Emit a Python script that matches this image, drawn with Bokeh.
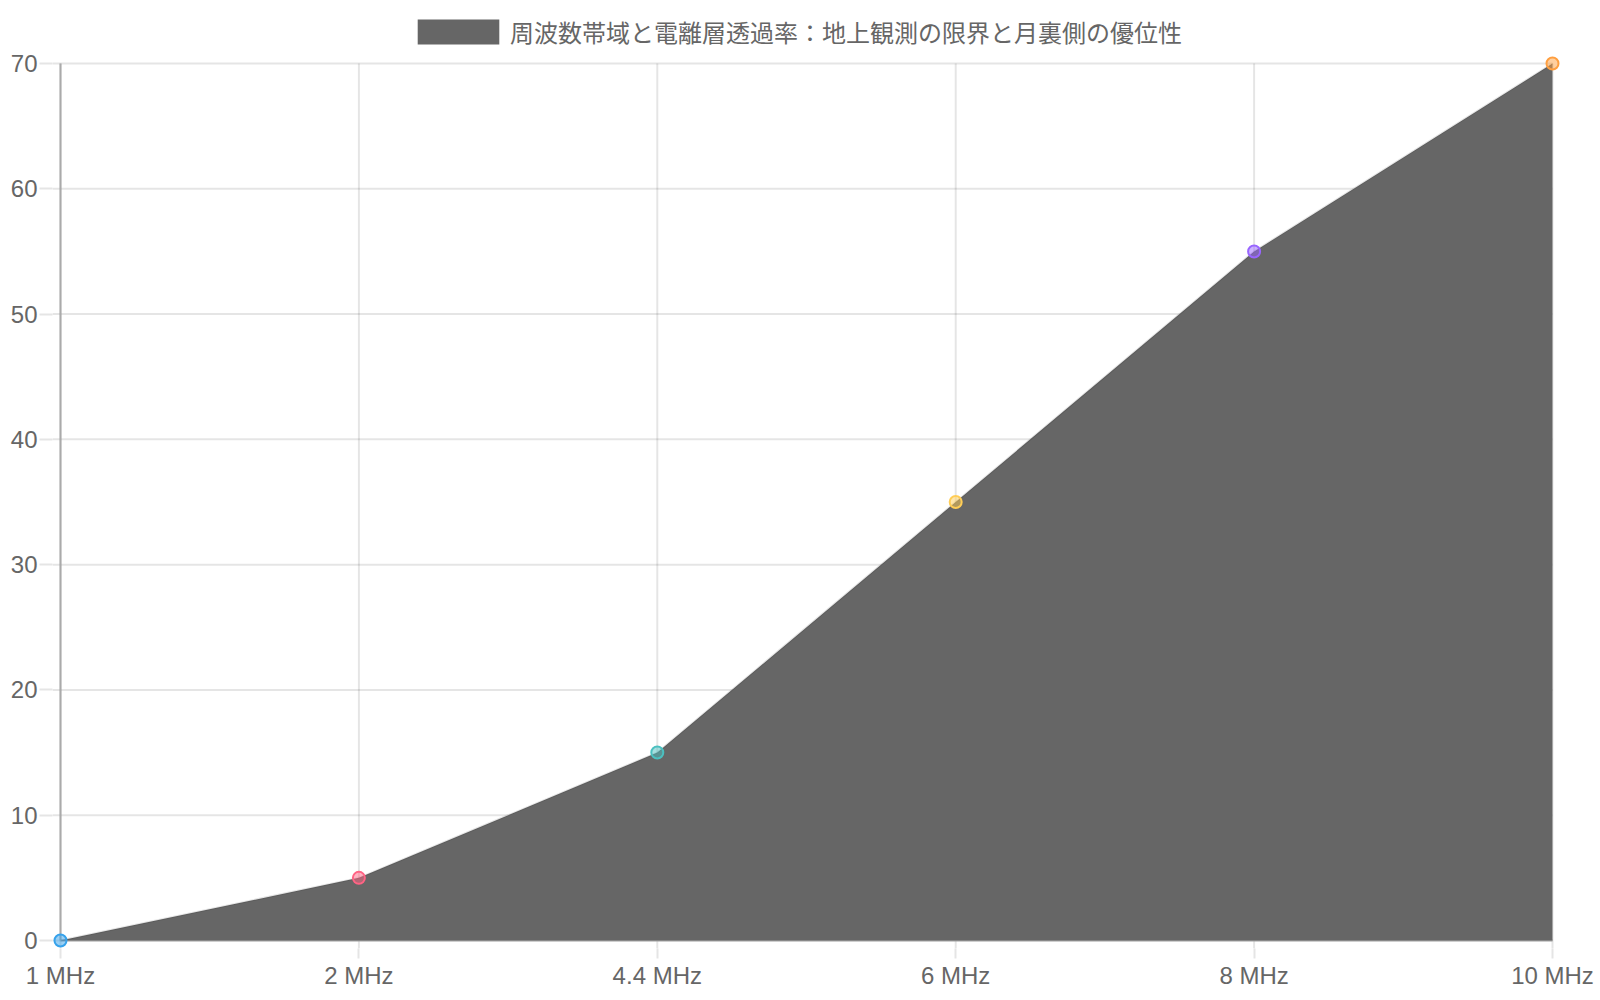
from bokeh.plotting import figure
from bokeh.models import Range1d, FixedTicker, Legend, LegendItem, ColumnDataSource
from bokeh.embed import file_html
from bokeh.resources import INLINE

# ---- data ----
categories = ["1 MHz", "2 MHz", "4.4 MHz", "6 MHz", "8 MHz", "10 MHz"]
values = [0, 5, 15, 35, 55, 70]
point_colors = ["rgb(54,162,235)", "rgb(255,99,132)", "rgb(75,192,192)",
                "rgb(255,205,86)", "rgb(153,102,255)", "rgb(255,159,64)"]
y_ticks = [0, 10, 20, 30, 40, 50, 60, 70]
series_label = "周波数帯域と電離層透過率：地上観測の限界と月裏側の優位性"

idx = list(range(len(categories)))
x_max = len(categories) - 1
y_max = y_ticks[-1]

W, H = 1600, 1000
BL, BR, BT, BB = 52, 40, 0, 52
frame_w = W - BL - BR
frame_h = H - BT - BB
PAD = 8          # px of frame beyond data on left/right/bottom (edge markers not clipped)
TOP_SPACE = 63   # px from frame top to the 70 line (room for the legend)
px_x = (frame_w - 2 * PAD) / x_max
px_y = (frame_h - PAD - TOP_SPACE) / y_max
pad_x = PAD / px_x
pad_y = PAD / px_y
top_y = TOP_SPACE / px_y

p = figure(width=W, height=H, output_backend="svg", toolbar_location=None,
           x_range=Range1d(-pad_x, x_max + pad_x), y_range=Range1d(-pad_y, y_max + top_y),
           min_border_left=BL, min_border_right=BR, min_border_top=BT, min_border_bottom=BB)
p.outline_line_color = None
p.background_fill_color = "white"
p.border_fill_color = "white"
p.xgrid.visible = False
p.ygrid.visible = False

GRID = "rgba(0,0,0,0.1)"
TICK_FONT = "Liberation Sans"

for ax in (p.xaxis[0], p.yaxis[0]):
    ax.axis_line_color = None
    ax.major_tick_line_color = GRID
    ax.major_tick_line_width = 2
    ax.major_tick_in = 0
    ax.minor_tick_line_color = None
    ax.major_label_text_color = "#666666"
    ax.major_label_text_font = TICK_FONT
    ax.major_label_text_font_size = "24px"

p.xaxis.ticker = FixedTicker(ticks=idx)
p.xaxis.major_label_overrides = {i: c for i, c in zip(idx, categories)}
p.xaxis.major_tick_out = 10
p.xaxis.major_label_standoff = 3

p.yaxis.ticker = FixedTicker(ticks=y_ticks)
p.yaxis.major_tick_out = 13
p.yaxis.major_label_standoff = 2

# grid lines (limited to the data area, continuing into the ticks)
p.segment(x0=[-pad_x] * len(y_ticks), x1=[x_max] * len(y_ticks), y0=y_ticks, y1=y_ticks,
          line_color=GRID, line_width=2)
p.segment(x0=idx, x1=idx, y0=[-pad_y] * len(idx), y1=[y_max] * len(idx),
          line_color=GRID, line_width=2)
# axis borders
p.segment(x0=[0], x1=[0], y0=[0], y1=[y_max], line_color="#aaaaaa", line_width=2)
p.segment(x0=[0], x1=[x_max], y0=[0], y1=[0], line_color="#aaaaaa", line_width=2)

src = ColumnDataSource(dict(x=idx, y=values, c=point_colors))
area = p.varea(x="x", y1=0, y2="y", source=src, fill_color="#666666")
p.line(x="x", y="y", source=src, line_color="rgba(0,0,0,0.1)", line_width=2)
p.scatter(x="x", y="y", source=src, size=12, fill_color="c", fill_alpha=0.5,
          line_color="c", line_width=2)

legend = Legend(items=[LegendItem(label=series_label, renderers=[area])],
                location=(355, 899), orientation="horizontal",
                glyph_width=102, glyph_height=31, label_standoff=1,
                padding=0, margin=0, border_line_color=None, background_fill_alpha=0,
                label_text_font="Noto Sans CJK JP", label_text_font_size="24px",
                label_text_color="#666666")
p.add_layout(legend, "center")

open("out.html", "w").write(file_html(p, INLINE))
